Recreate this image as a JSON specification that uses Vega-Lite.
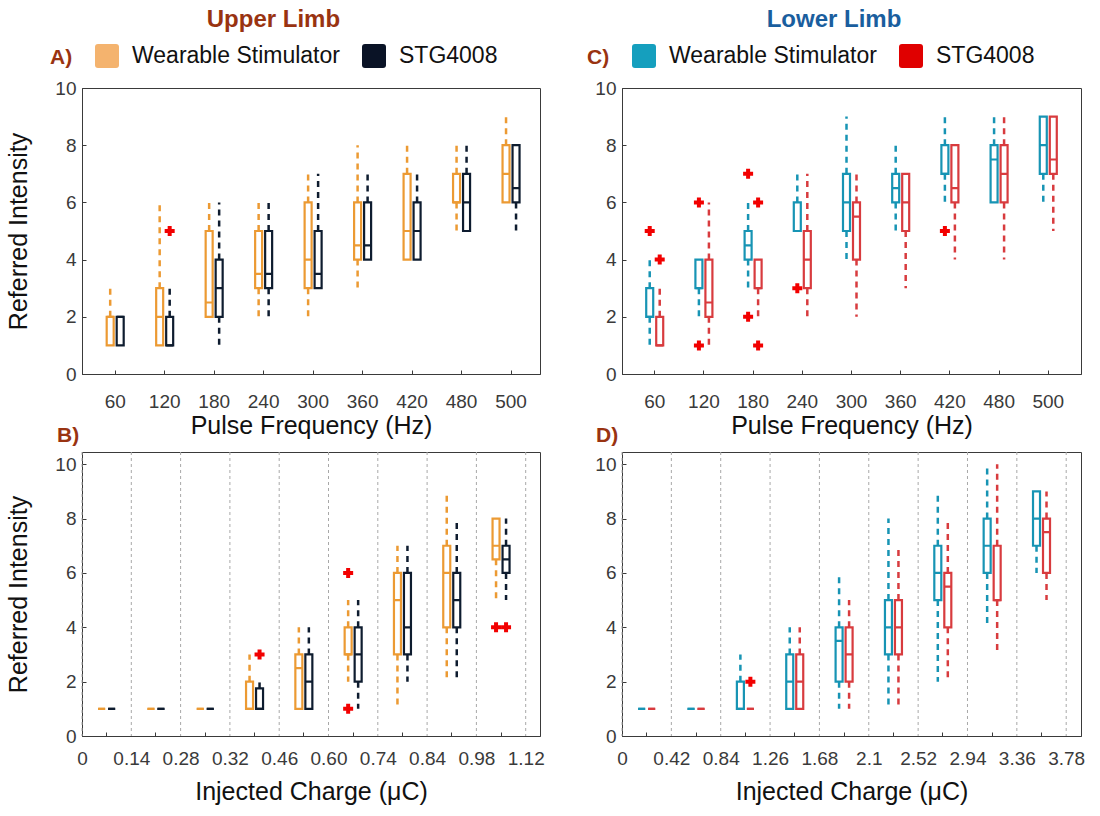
{
  "$schema": "https://vega.github.io/schema/vega-lite/v6.json",
  "background": "white",
  "padding": {"left": 6, "top": 7, "right": 5, "bottom": 5},
  "datasets": {
    "upperFreq": [
      {"freq": "60", "device": "Wearable Stimulator", "lo": 1, "q1": 1, "med": 2, "q3": 2, "hi": 3},
      {"freq": "60", "device": "STG4008", "lo": 1, "q1": 1, "med": 2, "q3": 2, "hi": 2},
      {"freq": "120", "device": "Wearable Stimulator", "lo": 1, "q1": 1, "med": 2, "q3": 3, "hi": 6},
      {"freq": "120", "device": "STG4008", "lo": 1, "q1": 1, "med": 1, "q3": 2, "hi": 3},
      {"freq": "180", "device": "Wearable Stimulator", "lo": 2, "q1": 2, "med": 2.5, "q3": 5, "hi": 6},
      {"freq": "180", "device": "STG4008", "lo": 1, "q1": 2, "med": 3, "q3": 4, "hi": 6},
      {"freq": "240", "device": "Wearable Stimulator", "lo": 2, "q1": 3, "med": 3.5, "q3": 5, "hi": 6},
      {"freq": "240", "device": "STG4008", "lo": 2, "q1": 3, "med": 3.5, "q3": 5, "hi": 6},
      {"freq": "300", "device": "Wearable Stimulator", "lo": 2, "q1": 3, "med": 4, "q3": 6, "hi": 7},
      {"freq": "300", "device": "STG4008", "lo": 3, "q1": 3, "med": 3.5, "q3": 5, "hi": 7},
      {"freq": "360", "device": "Wearable Stimulator", "lo": 3, "q1": 4, "med": 4.5, "q3": 6, "hi": 8},
      {"freq": "360", "device": "STG4008", "lo": 4, "q1": 4, "med": 4.5, "q3": 6, "hi": 7},
      {"freq": "420", "device": "Wearable Stimulator", "lo": 4, "q1": 4, "med": 5, "q3": 7, "hi": 8},
      {"freq": "420", "device": "STG4008", "lo": 4, "q1": 4, "med": 5, "q3": 6, "hi": 7},
      {"freq": "480", "device": "Wearable Stimulator", "lo": 5, "q1": 6, "med": 6, "q3": 7, "hi": 8},
      {"freq": "480", "device": "STG4008", "lo": 5, "q1": 5, "med": 6, "q3": 7, "hi": 8},
      {"freq": "500", "device": "Wearable Stimulator", "lo": 6, "q1": 6, "med": 7, "q3": 8, "hi": 9},
      {"freq": "500", "device": "STG4008", "lo": 5, "q1": 6, "med": 6.5, "q3": 8, "hi": 8}
    ],
    "upperFreqOut": [
      {"freq": "120", "device": "STG4008", "value": 5}
    ],
    "lowerFreq": [
      {"freq": "60", "device": "Wearable Stimulator", "lo": 1, "q1": 2, "med": 2, "q3": 3, "hi": 4},
      {"freq": "60", "device": "STG4008", "lo": 1, "q1": 1, "med": 1, "q3": 2, "hi": 3},
      {"freq": "120", "device": "Wearable Stimulator", "lo": 2, "q1": 3, "med": 3, "q3": 4, "hi": 4},
      {"freq": "120", "device": "STG4008", "lo": 1, "q1": 2, "med": 2.5, "q3": 4, "hi": 6},
      {"freq": "180", "device": "Wearable Stimulator", "lo": 3, "q1": 4, "med": 4.5, "q3": 5, "hi": 6},
      {"freq": "180", "device": "STG4008", "lo": 2, "q1": 3, "med": 3, "q3": 4, "hi": 4},
      {"freq": "240", "device": "Wearable Stimulator", "lo": 5, "q1": 5, "med": 5, "q3": 6, "hi": 7},
      {"freq": "240", "device": "STG4008", "lo": 2, "q1": 3, "med": 4, "q3": 5, "hi": 7},
      {"freq": "300", "device": "Wearable Stimulator", "lo": 4, "q1": 5, "med": 6, "q3": 7, "hi": 9},
      {"freq": "300", "device": "STG4008", "lo": 2, "q1": 4, "med": 5.5, "q3": 6, "hi": 7},
      {"freq": "360", "device": "Wearable Stimulator", "lo": 5, "q1": 6, "med": 6.5, "q3": 7, "hi": 8},
      {"freq": "360", "device": "STG4008", "lo": 3, "q1": 5, "med": 6, "q3": 7, "hi": 7},
      {"freq": "420", "device": "Wearable Stimulator", "lo": 6, "q1": 7, "med": 7, "q3": 8, "hi": 9},
      {"freq": "420", "device": "STG4008", "lo": 4, "q1": 6, "med": 6.5, "q3": 8, "hi": 8},
      {"freq": "480", "device": "Wearable Stimulator", "lo": 6, "q1": 6, "med": 7.5, "q3": 8, "hi": 9},
      {"freq": "480", "device": "STG4008", "lo": 4, "q1": 6, "med": 7, "q3": 8, "hi": 9},
      {"freq": "500", "device": "Wearable Stimulator", "lo": 6, "q1": 7, "med": 8, "q3": 9, "hi": 9},
      {"freq": "500", "device": "STG4008", "lo": 5, "q1": 7, "med": 7.5, "q3": 9, "hi": 9}
    ],
    "lowerFreqOut": [
      {"freq": "60", "device": "Wearable Stimulator", "value": 5},
      {"freq": "60", "device": "STG4008", "value": 4},
      {"freq": "120", "device": "Wearable Stimulator", "value": 6},
      {"freq": "120", "device": "Wearable Stimulator", "value": 1},
      {"freq": "180", "device": "Wearable Stimulator", "value": 7},
      {"freq": "180", "device": "Wearable Stimulator", "value": 2},
      {"freq": "180", "device": "STG4008", "value": 6},
      {"freq": "180", "device": "STG4008", "value": 1},
      {"freq": "240", "device": "Wearable Stimulator", "value": 3},
      {"freq": "420", "device": "Wearable Stimulator", "value": 5}
    ],
    "upperEdges": [
      {"edge": "0"}, {"edge": "0.14"}, {"edge": "0.28"}, {"edge": "0.32"}, {"edge": "0.46"},
      {"edge": "0.60"}, {"edge": "0.74"}, {"edge": "0.84"}, {"edge": "0.98"}, {"edge": "1.12"}
    ],
    "upperCharge": [
      {"bin": "0–0.14", "device": "Wearable Stimulator", "lo": 1, "q1": 1, "med": 1, "q3": 1, "hi": 1},
      {"bin": "0–0.14", "device": "STG4008", "lo": 1, "q1": 1, "med": 1, "q3": 1, "hi": 1},
      {"bin": "0.14–0.28", "device": "Wearable Stimulator", "lo": 1, "q1": 1, "med": 1, "q3": 1, "hi": 1},
      {"bin": "0.14–0.28", "device": "STG4008", "lo": 1, "q1": 1, "med": 1, "q3": 1, "hi": 1},
      {"bin": "0.28–0.32", "device": "Wearable Stimulator", "lo": 1, "q1": 1, "med": 1, "q3": 1, "hi": 1},
      {"bin": "0.28–0.32", "device": "STG4008", "lo": 1, "q1": 1, "med": 1, "q3": 1, "hi": 1},
      {"bin": "0.32–0.46", "device": "Wearable Stimulator", "lo": 1, "q1": 1, "med": 1, "q3": 2, "hi": 3},
      {"bin": "0.32–0.46", "device": "STG4008", "lo": 1, "q1": 1, "med": 1, "q3": 1.75, "hi": 2},
      {"bin": "0.46–0.60", "device": "Wearable Stimulator", "lo": 1, "q1": 1, "med": 2.5, "q3": 3, "hi": 4},
      {"bin": "0.46–0.60", "device": "STG4008", "lo": 1, "q1": 1, "med": 2, "q3": 3, "hi": 4},
      {"bin": "0.60–0.74", "device": "Wearable Stimulator", "lo": 2, "q1": 3, "med": 3, "q3": 4, "hi": 5},
      {"bin": "0.60–0.74", "device": "STG4008", "lo": 1, "q1": 2, "med": 3, "q3": 4, "hi": 5},
      {"bin": "0.74–0.84", "device": "Wearable Stimulator", "lo": 1, "q1": 3, "med": 5, "q3": 6, "hi": 7},
      {"bin": "0.74–0.84", "device": "STG4008", "lo": 2, "q1": 3, "med": 4, "q3": 6, "hi": 7},
      {"bin": "0.84–0.98", "device": "Wearable Stimulator", "lo": 2, "q1": 4, "med": 6, "q3": 7, "hi": 9},
      {"bin": "0.84–0.98", "device": "STG4008", "lo": 2, "q1": 4, "med": 5, "q3": 6, "hi": 8},
      {"bin": "0.98–1.12", "device": "Wearable Stimulator", "lo": 5, "q1": 6.5, "med": 7, "q3": 8, "hi": 8},
      {"bin": "0.98–1.12", "device": "STG4008", "lo": 5, "q1": 6, "med": 6.5, "q3": 7, "hi": 8}
    ],
    "upperChargeOut": [
      {"bin": "0.32–0.46", "device": "STG4008", "value": 3},
      {"bin": "0.60–0.74", "device": "Wearable Stimulator", "value": 6},
      {"bin": "0.60–0.74", "device": "Wearable Stimulator", "value": 1},
      {"bin": "0.98–1.12", "device": "Wearable Stimulator", "value": 4},
      {"bin": "0.98–1.12", "device": "STG4008", "value": 4}
    ],
    "lowerEdges": [
      {"edge": "0"}, {"edge": "0.42"}, {"edge": "0.84"}, {"edge": "1.26"}, {"edge": "1.68"},
      {"edge": "2.1"}, {"edge": "2.52"}, {"edge": "2.94"}, {"edge": "3.36"}, {"edge": "3.78"}
    ],
    "lowerCharge": [
      {"bin": "0–0.42", "device": "Wearable Stimulator", "lo": 1, "q1": 1, "med": 1, "q3": 1, "hi": 1},
      {"bin": "0–0.42", "device": "STG4008", "lo": 1, "q1": 1, "med": 1, "q3": 1, "hi": 1},
      {"bin": "0.42–0.84", "device": "Wearable Stimulator", "lo": 1, "q1": 1, "med": 1, "q3": 1, "hi": 1},
      {"bin": "0.42–0.84", "device": "STG4008", "lo": 1, "q1": 1, "med": 1, "q3": 1, "hi": 1},
      {"bin": "0.84–1.26", "device": "Wearable Stimulator", "lo": 1, "q1": 1, "med": 1, "q3": 2, "hi": 3},
      {"bin": "0.84–1.26", "device": "STG4008", "lo": 1, "q1": 1, "med": 1, "q3": 1, "hi": 1},
      {"bin": "1.26–1.68", "device": "Wearable Stimulator", "lo": 1, "q1": 1, "med": 2, "q3": 3, "hi": 4},
      {"bin": "1.26–1.68", "device": "STG4008", "lo": 1, "q1": 1, "med": 2, "q3": 3, "hi": 4},
      {"bin": "1.68–2.1", "device": "Wearable Stimulator", "lo": 1, "q1": 2, "med": 3.5, "q3": 4, "hi": 6},
      {"bin": "1.68–2.1", "device": "STG4008", "lo": 1, "q1": 2, "med": 3, "q3": 4, "hi": 5},
      {"bin": "2.1–2.52", "device": "Wearable Stimulator", "lo": 1, "q1": 3, "med": 4, "q3": 5, "hi": 8},
      {"bin": "2.1–2.52", "device": "STG4008", "lo": 1, "q1": 3, "med": 4, "q3": 5, "hi": 7},
      {"bin": "2.52–2.94", "device": "Wearable Stimulator", "lo": 2, "q1": 5, "med": 6, "q3": 7, "hi": 9},
      {"bin": "2.52–2.94", "device": "STG4008", "lo": 2, "q1": 4, "med": 5.5, "q3": 6, "hi": 8},
      {"bin": "2.94–3.36", "device": "Wearable Stimulator", "lo": 4, "q1": 6, "med": 7, "q3": 8, "hi": 10},
      {"bin": "2.94–3.36", "device": "STG4008", "lo": 3, "q1": 5, "med": 5, "q3": 7, "hi": 10},
      {"bin": "3.36–3.78", "device": "Wearable Stimulator", "lo": 6, "q1": 7, "med": 8, "q3": 9, "hi": 9},
      {"bin": "3.36–3.78", "device": "STG4008", "lo": 5, "q1": 6, "med": 7.5, "q3": 8, "hi": 9}
    ],
    "lowerChargeOut": [
      {"bin": "0.84–1.26", "device": "STG4008", "value": 2}
    ]
  },
  "concat": [
    {
      "width": 458, "height": 286,
      "title": {"text": "Upper Limb", "anchor": "middle", "frame": "bounds", "fontSize": 24, "fontWeight": "bold", "color": "#993311", "offset": 12},
      "data": {"name": "upperFreq"},
      "encoding": {
        "x": {"field": "freq", "type": "ordinal", "scale": {"domain": ["60", "120", "180", "240", "300", "360", "420", "480", "500"], "paddingInner": 0.6, "paddingOuter": 0.428, "align": 0.55}, "axis": {"title": "Pulse Frequency (Hz)"}},
        "stroke": {"field": "device", "type": "nominal", "scale": {"domain": ["Wearable Stimulator", "STG4008"], "range": ["#EC9A33", "#0E1C2F"]}, "legend": null}
      },
      "layer": [
        {"transform": [{"filter": "datum.device === 'Wearable Stimulator'"}],
         "mark": {"type": "rect", "fillOpacity": 0, "strokeWidth": 2.2, "width": 7, "xOffset": -5},
         "encoding": {
           "y": {"field": "q1", "type": "quantitative", "title": "Referred Intensity", "scale": {"domain": [0, 10], "nice": false}, "axis": {"values": [0, 2, 4, 6, 8, 10]}},
           "y2": {"field": "q3"},
           "fill": {"field": "device", "type": "nominal", "scale": {"domain": ["Wearable Stimulator", "STG4008"], "range": ["#F4B36E", "#0A1326"]}, "legend": {"title": "A)", "orient": "none", "legendX": -32, "legendY": -44, "direction": "horizontal"}}
         }},
        {"transform": [{"filter": "datum.device === 'STG4008'"}],
         "mark": {"type": "rect", "fillOpacity": 0, "strokeWidth": 2.2, "width": 7, "xOffset": 5},
         "encoding": {"y": {"field": "q1", "type": "quantitative", "title": "Referred Intensity"}, "y2": {"field": "q3"}}},
        {"transform": [{"filter": "datum.device === 'Wearable Stimulator'"}],
         "mark": {"type": "rect", "fillOpacity": 0, "strokeWidth": 2.2, "width": 7, "xOffset": -5},
         "encoding": {"y": {"field": "med", "type": "quantitative", "title": "Referred Intensity"}, "y2": {"field": "med"}}},
        {"transform": [{"filter": "datum.device === 'STG4008'"}],
         "mark": {"type": "rect", "fillOpacity": 0, "strokeWidth": 2.2, "width": 7, "xOffset": 5},
         "encoding": {"y": {"field": "med", "type": "quantitative", "title": "Referred Intensity"}, "y2": {"field": "med"}}},
        {"transform": [{"filter": "datum.device === 'Wearable Stimulator'"}],
         "mark": {"type": "rule", "strokeWidth": 2.5, "strokeDash": [6, 5], "xOffset": -5},
         "encoding": {"y": {"field": "q1", "type": "quantitative", "title": "Referred Intensity"}, "y2": {"field": "lo"}}},
        {"transform": [{"filter": "datum.device === 'STG4008'"}],
         "mark": {"type": "rule", "strokeWidth": 2.5, "strokeDash": [6, 5], "xOffset": 5},
         "encoding": {"y": {"field": "q1", "type": "quantitative", "title": "Referred Intensity"}, "y2": {"field": "lo"}}},
        {"transform": [{"filter": "datum.device === 'Wearable Stimulator'"}],
         "mark": {"type": "rule", "strokeWidth": 2.5, "strokeDash": [6, 5], "xOffset": -5},
         "encoding": {"y": {"field": "q3", "type": "quantitative", "title": "Referred Intensity"}, "y2": {"field": "hi"}}},
        {"transform": [{"filter": "datum.device === 'STG4008'"}],
         "mark": {"type": "rule", "strokeWidth": 2.5, "strokeDash": [6, 5], "xOffset": 5},
         "encoding": {"y": {"field": "q3", "type": "quantitative", "title": "Referred Intensity"}, "y2": {"field": "hi"}}},
        {"data": {"name": "upperFreqOut"}, "transform": [{"filter": "datum.device === 'STG4008'"}],
         "mark": {"type": "point", "shape": "cross", "filled": true, "fill": "#F20000", "size": 100, "opacity": 1, "strokeWidth": 0, "xOffset": 5},
         "encoding": {"y": {"field": "value", "type": "quantitative", "title": "Referred Intensity"}, "stroke": {"value": null}}}
      ]
    },
    {
      "width": 459, "height": 286,
      "title": {"text": "Lower Limb", "anchor": "middle", "frame": "bounds", "fontSize": 24, "fontWeight": "bold", "color": "#1A5E9E", "offset": 12},
      "data": {"name": "lowerFreq"},
      "encoding": {
        "x": {"field": "freq", "type": "ordinal", "scale": {"domain": ["60", "120", "180", "240", "300", "360", "420", "480", "500"], "paddingInner": 0.6, "paddingOuter": 0.465}, "axis": {"title": "Pulse Frequency (Hz)"}},
        "stroke": {"field": "device", "type": "nominal", "scale": {"domain": ["Wearable Stimulator", "STG4008"], "range": ["#1794B4", "#D83B3E"]}, "legend": null}
      },
      "layer": [
        {"transform": [{"filter": "datum.device === 'Wearable Stimulator'"}],
         "mark": {"type": "rect", "fillOpacity": 0, "strokeWidth": 2.2, "width": 7, "xOffset": -5},
         "encoding": {
           "y": {"field": "q1", "type": "quantitative", "title": null, "scale": {"domain": [0, 10], "nice": false}, "axis": {"values": [0, 2, 4, 6, 8, 10]}},
           "y2": {"field": "q3"},
           "fill": {"field": "device", "type": "nominal", "scale": {"domain": ["Wearable Stimulator", "STG4008"], "range": ["#159FBE", "#E00000"]}, "legend": {"title": "C)", "orient": "none", "legendX": -35, "legendY": -44, "direction": "horizontal"}}
         }},
        {"transform": [{"filter": "datum.device === 'STG4008'"}],
         "mark": {"type": "rect", "fillOpacity": 0, "strokeWidth": 2.2, "width": 7, "xOffset": 5},
         "encoding": {"y": {"field": "q1", "type": "quantitative", "title": null}, "y2": {"field": "q3"}}},
        {"transform": [{"filter": "datum.device === 'Wearable Stimulator'"}],
         "mark": {"type": "rect", "fillOpacity": 0, "strokeWidth": 2.2, "width": 7, "xOffset": -5},
         "encoding": {"y": {"field": "med", "type": "quantitative", "title": null}, "y2": {"field": "med"}}},
        {"transform": [{"filter": "datum.device === 'STG4008'"}],
         "mark": {"type": "rect", "fillOpacity": 0, "strokeWidth": 2.2, "width": 7, "xOffset": 5},
         "encoding": {"y": {"field": "med", "type": "quantitative", "title": null}, "y2": {"field": "med"}}},
        {"transform": [{"filter": "datum.device === 'Wearable Stimulator'"}],
         "mark": {"type": "rule", "strokeWidth": 2.5, "strokeDash": [6, 5], "xOffset": -5},
         "encoding": {"y": {"field": "q1", "type": "quantitative", "title": null}, "y2": {"field": "lo"}}},
        {"transform": [{"filter": "datum.device === 'STG4008'"}],
         "mark": {"type": "rule", "strokeWidth": 2.5, "strokeDash": [6, 5], "xOffset": 5},
         "encoding": {"y": {"field": "q1", "type": "quantitative", "title": null}, "y2": {"field": "lo"}}},
        {"transform": [{"filter": "datum.device === 'Wearable Stimulator'"}],
         "mark": {"type": "rule", "strokeWidth": 2.5, "strokeDash": [6, 5], "xOffset": -5},
         "encoding": {"y": {"field": "q3", "type": "quantitative", "title": null}, "y2": {"field": "hi"}}},
        {"transform": [{"filter": "datum.device === 'STG4008'"}],
         "mark": {"type": "rule", "strokeWidth": 2.5, "strokeDash": [6, 5], "xOffset": 5},
         "encoding": {"y": {"field": "q3", "type": "quantitative", "title": null}, "y2": {"field": "hi"}}},
        {"data": {"name": "lowerFreqOut"}, "transform": [{"filter": "datum.device === 'Wearable Stimulator'"}],
         "mark": {"type": "point", "shape": "cross", "filled": true, "fill": "#F20000", "size": 100, "opacity": 1, "strokeWidth": 0, "xOffset": -5},
         "encoding": {"y": {"field": "value", "type": "quantitative", "title": null}, "stroke": {"value": null}}},
        {"data": {"name": "lowerFreqOut"}, "transform": [{"filter": "datum.device === 'STG4008'"}],
         "mark": {"type": "point", "shape": "cross", "filled": true, "fill": "#F20000", "size": 100, "opacity": 1, "strokeWidth": 0, "xOffset": 5},
         "encoding": {"y": {"field": "value", "type": "quantitative", "title": null}, "stroke": {"value": null}}}
      ]
    },
    {
      "width": 458, "height": 284,
      "title": {"text": "B)", "anchor": "start", "frame": "group", "dx": -25, "fontSize": 21, "fontWeight": "bold", "color": "#993311", "offset": 6},
      "layer": [
        {"data": {"name": "upperEdges"},
         "mark": {"type": "rule", "color": "#A8A8A8", "strokeDash": [3, 3], "strokeWidth": 1},
         "encoding": {"x": {"field": "edge", "type": "ordinal", "scale": {"type": "point", "domain": ["0", "0.14", "0.28", "0.32", "0.46", "0.60", "0.74", "0.84", "0.98", "1.12"], "padding": 0.145, "align": 0}, "axis": {"title": "Injected Charge (μC)", "orient": "bottom", "ticks": false, "labelPadding": 13, "labelOverlap": false, "titlePadding": 11}}}},
        {"data": {"name": "upperCharge"},
         "encoding": {
           "x": {"field": "bin", "type": "ordinal", "scale": {"domain": ["0–0.14", "0.14–0.28", "0.28–0.32", "0.32–0.46", "0.46–0.60", "0.60–0.74", "0.74–0.84", "0.84–0.98", "0.98–1.12"], "paddingInner": 0, "paddingOuter": 0.145, "align": 0}, "axis": {"orient": "bottom", "labels": false, "domain": false, "title": null}},
           "stroke": {"field": "device", "type": "nominal", "scale": {"domain": ["Wearable Stimulator", "STG4008"], "range": ["#EC9A33", "#0E1C2F"]}, "legend": null}
         },
         "layer": [
           {"transform": [{"filter": "datum.device === 'Wearable Stimulator'"}],
            "mark": {"type": "rect", "fillOpacity": 0, "strokeWidth": 2.2, "width": 7, "xOffset": -5},
            "encoding": {"y": {"field": "q1", "type": "quantitative", "title": "Referred Intensity", "scale": {"domain": [0, 10.45], "nice": false}, "axis": {"values": [0, 2, 4, 6, 8, 10]}}, "y2": {"field": "q3"}}},
           {"transform": [{"filter": "datum.device === 'STG4008'"}],
            "mark": {"type": "rect", "fillOpacity": 0, "strokeWidth": 2.2, "width": 7, "xOffset": 5},
            "encoding": {"y": {"field": "q1", "type": "quantitative", "title": "Referred Intensity"}, "y2": {"field": "q3"}}},
           {"transform": [{"filter": "datum.device === 'Wearable Stimulator'"}],
            "mark": {"type": "rect", "fillOpacity": 0, "strokeWidth": 2.2, "width": 7, "xOffset": -5},
            "encoding": {"y": {"field": "med", "type": "quantitative", "title": "Referred Intensity"}, "y2": {"field": "med"}}},
           {"transform": [{"filter": "datum.device === 'STG4008'"}],
            "mark": {"type": "rect", "fillOpacity": 0, "strokeWidth": 2.2, "width": 7, "xOffset": 5},
            "encoding": {"y": {"field": "med", "type": "quantitative", "title": "Referred Intensity"}, "y2": {"field": "med"}}},
           {"transform": [{"filter": "datum.device === 'Wearable Stimulator'"}],
            "mark": {"type": "rule", "strokeWidth": 2.5, "strokeDash": [6, 5], "xOffset": -5},
            "encoding": {"y": {"field": "q1", "type": "quantitative", "title": "Referred Intensity"}, "y2": {"field": "lo"}}},
           {"transform": [{"filter": "datum.device === 'STG4008'"}],
            "mark": {"type": "rule", "strokeWidth": 2.5, "strokeDash": [6, 5], "xOffset": 5},
            "encoding": {"y": {"field": "q1", "type": "quantitative", "title": "Referred Intensity"}, "y2": {"field": "lo"}}},
           {"transform": [{"filter": "datum.device === 'Wearable Stimulator'"}],
            "mark": {"type": "rule", "strokeWidth": 2.5, "strokeDash": [6, 5], "xOffset": -5},
            "encoding": {"y": {"field": "q3", "type": "quantitative", "title": "Referred Intensity"}, "y2": {"field": "hi"}}},
           {"transform": [{"filter": "datum.device === 'STG4008'"}],
            "mark": {"type": "rule", "strokeWidth": 2.5, "strokeDash": [6, 5], "xOffset": 5},
            "encoding": {"y": {"field": "q3", "type": "quantitative", "title": "Referred Intensity"}, "y2": {"field": "hi"}}},
           {"data": {"name": "upperChargeOut"}, "transform": [{"filter": "datum.device === 'Wearable Stimulator'"}],
            "mark": {"type": "point", "shape": "cross", "filled": true, "fill": "#F20000", "size": 100, "opacity": 1, "strokeWidth": 0, "xOffset": -5},
            "encoding": {"y": {"field": "value", "type": "quantitative", "title": "Referred Intensity"}, "stroke": {"value": null}}},
           {"data": {"name": "upperChargeOut"}, "transform": [{"filter": "datum.device === 'STG4008'"}],
            "mark": {"type": "point", "shape": "cross", "filled": true, "fill": "#F20000", "size": 100, "opacity": 1, "strokeWidth": 0, "xOffset": 5},
            "encoding": {"y": {"field": "value", "type": "quantitative", "title": "Referred Intensity"}, "stroke": {"value": null}}}
         ]}
      ],
      "resolve": {"scale": {"x": "independent"}, "axis": {"x": "independent"}}
    },
    {
      "width": 459, "height": 284,
      "title": {"text": "D)", "anchor": "start", "frame": "group", "dx": -26, "fontSize": 21, "fontWeight": "bold", "color": "#993311", "offset": 6},
      "layer": [
        {"data": {"name": "lowerEdges"},
         "mark": {"type": "rule", "color": "#A8A8A8", "strokeDash": [3, 3], "strokeWidth": 1},
         "encoding": {"x": {"field": "edge", "type": "ordinal", "scale": {"type": "point", "domain": ["0", "0.42", "0.84", "1.26", "1.68", "2.1", "2.52", "2.94", "3.36", "3.78"], "padding": 0.15, "align": 0}, "axis": {"title": "Injected Charge (μC)", "orient": "bottom", "ticks": false, "labelPadding": 13, "labelOverlap": false, "titlePadding": 11}}}},
        {"data": {"name": "lowerCharge"},
         "encoding": {
           "x": {"field": "bin", "type": "ordinal", "scale": {"domain": ["0–0.42", "0.42–0.84", "0.84–1.26", "1.26–1.68", "1.68–2.1", "2.1–2.52", "2.52–2.94", "2.94–3.36", "3.36–3.78"], "paddingInner": 0, "paddingOuter": 0.15, "align": 0}, "axis": {"orient": "bottom", "labels": false, "domain": false, "title": null}},
           "stroke": {"field": "device", "type": "nominal", "scale": {"domain": ["Wearable Stimulator", "STG4008"], "range": ["#1794B4", "#D83B3E"]}, "legend": null}
         },
         "layer": [
           {"transform": [{"filter": "datum.device === 'Wearable Stimulator'"}],
            "mark": {"type": "rect", "fillOpacity": 0, "strokeWidth": 2.2, "width": 7, "xOffset": -5},
            "encoding": {"y": {"field": "q1", "type": "quantitative", "title": null, "scale": {"domain": [0, 10.45], "nice": false}, "axis": {"values": [0, 2, 4, 6, 8, 10]}}, "y2": {"field": "q3"}}},
           {"transform": [{"filter": "datum.device === 'STG4008'"}],
            "mark": {"type": "rect", "fillOpacity": 0, "strokeWidth": 2.2, "width": 7, "xOffset": 5},
            "encoding": {"y": {"field": "q1", "type": "quantitative", "title": null}, "y2": {"field": "q3"}}},
           {"transform": [{"filter": "datum.device === 'Wearable Stimulator'"}],
            "mark": {"type": "rect", "fillOpacity": 0, "strokeWidth": 2.2, "width": 7, "xOffset": -5},
            "encoding": {"y": {"field": "med", "type": "quantitative", "title": null}, "y2": {"field": "med"}}},
           {"transform": [{"filter": "datum.device === 'STG4008'"}],
            "mark": {"type": "rect", "fillOpacity": 0, "strokeWidth": 2.2, "width": 7, "xOffset": 5},
            "encoding": {"y": {"field": "med", "type": "quantitative", "title": null}, "y2": {"field": "med"}}},
           {"transform": [{"filter": "datum.device === 'Wearable Stimulator'"}],
            "mark": {"type": "rule", "strokeWidth": 2.5, "strokeDash": [6, 5], "xOffset": -5},
            "encoding": {"y": {"field": "q1", "type": "quantitative", "title": null}, "y2": {"field": "lo"}}},
           {"transform": [{"filter": "datum.device === 'STG4008'"}],
            "mark": {"type": "rule", "strokeWidth": 2.5, "strokeDash": [6, 5], "xOffset": 5},
            "encoding": {"y": {"field": "q1", "type": "quantitative", "title": null}, "y2": {"field": "lo"}}},
           {"transform": [{"filter": "datum.device === 'Wearable Stimulator'"}],
            "mark": {"type": "rule", "strokeWidth": 2.5, "strokeDash": [6, 5], "xOffset": -5},
            "encoding": {"y": {"field": "q3", "type": "quantitative", "title": null}, "y2": {"field": "hi"}}},
           {"transform": [{"filter": "datum.device === 'STG4008'"}],
            "mark": {"type": "rule", "strokeWidth": 2.5, "strokeDash": [6, 5], "xOffset": 5},
            "encoding": {"y": {"field": "q3", "type": "quantitative", "title": null}, "y2": {"field": "hi"}}},
           {"data": {"name": "lowerChargeOut"}, "transform": [{"filter": "datum.device === 'STG4008'"}],
            "mark": {"type": "point", "shape": "cross", "filled": true, "fill": "#F20000", "size": 100, "opacity": 1, "strokeWidth": 0, "xOffset": 5},
            "encoding": {"y": {"field": "value", "type": "quantitative", "title": null}, "stroke": {"value": null}}}
         ]}
      ],
      "resolve": {"scale": {"x": "independent"}, "axis": {"x": "independent"}}
    }
  ],
  "columns": 2,
  "bounds": "flush",
  "spacing": {"row": 78, "column": 82},
  "resolve": {"scale": {"stroke": "independent", "fill": "independent", "color": "independent"}, "legend": {"stroke": "independent", "fill": "independent"}},
  "config": {
    "font": "Liberation Sans",
    "view": {"stroke": "#3a3a3a", "strokeWidth": 1},
    "axis": {"labelFontSize": 19, "labelColor": "#3a3a3a", "titleFontSize": 25, "titleFontWeight": "normal", "titleColor": "#111111", "domainColor": "#3a3a3a", "tickColor": "#3a3a3a", "tickSize": -4, "labelPadding": 22, "titlePadding": 2, "grid": false, "labelAngle": 0},
    "axisY": {"labelPadding": 10, "titlePadding": 23},
    "legend": {"titleOrient": "left", "titleAnchor": "end", "titleFontSize": 21, "titleFontWeight": "bold", "titleColor": "#993311", "titlePadding": 22, "labelFontSize": 23, "labelColor": "#111111", "labelLimit": 0, "symbolType": "M -0.75 -1 L 0.75 -1 Q 1 -1 1 -0.75 L 1 0.75 Q 1 1 0.75 1 L -0.75 1 Q -1 1 -1 0.75 L -1 -0.75 Q -1 -1 -0.75 -1 Z", "symbolSize": 576, "symbolStrokeWidth": 0, "symbolOpacity": 1, "columnPadding": 22, "labelOffset": 13},
    "title": {"font": "Liberation Sans"}
  }
}
